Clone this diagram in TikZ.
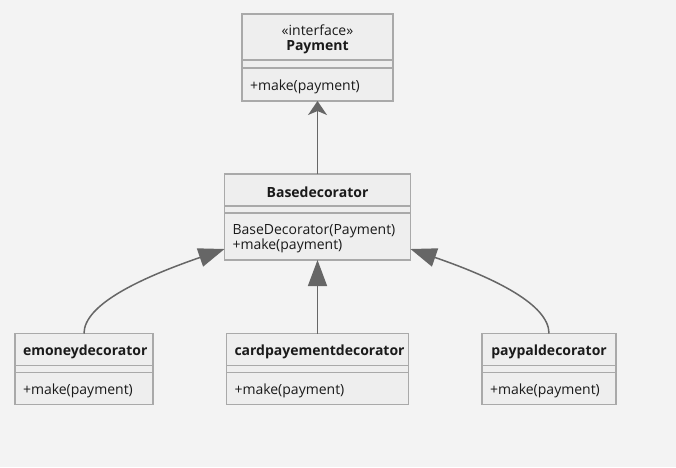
\documentclass[tikz,border=0pt]{standalone}
\usepackage{fontspec}
\setmainfont{Open Sans}
\usetikzlibrary{positioning,arrows.meta}
\definecolor{fond}{HTML}{F3F3F3}
\definecolor{boite}{HTML}{EEEEEE}
\definecolor{bord}{HTML}{A9A9A9}
\definecolor{lien}{HTML}{666666}
\definecolor{texte}{HTML}{1A1A1A}
\begin{document}
\begin{tikzpicture}[
    x=1pt, y=-1pt,
    node distance=73.5pt,
    % Réglages communs des boîtes
    every node/.style={draw=bord, line width=1.5pt, fill=boite, text=texte,
        inner xsep=8pt, inner ysep=0pt, outer sep=0pt,
        font=\fontsize{14pt}{15pt}\selectfont},
    titre/.style={minimum height=32pt, align=center,
        font=\fontsize{14pt}{15pt}\selectfont\bfseries,
        execute at begin node=\rule{0pt}{15pt}},
    attr/.style={minimum height=7pt, below=0pt of #1},
    meth/.style={minimum height=32pt, align=left, below=0pt of #1,
        execute at begin node=\rule{0pt}{15pt}},
    herit/.style={draw=lien, line width=1.5pt, -{Triangle[length=26pt, width=19pt]}},
    impl/.style={draw=lien, line width=1.5pt, -{Stealth[length=14pt, width=19pt, inset=4pt]}}
]
\fill[fond] (0,0) rectangle (676,467);
\useasboundingbox (0,0) rectangle (676,467);
% Interface
\node[titre, text width=135pt, minimum height=46pt, anchor=north] (pay) at (317.5,14)
    {{\mdseries «interface»}\\Payment};
\node[attr=pay, text width=135pt, minimum height=8pt] (pay-a) {};
\node[meth=pay-a, text width=135pt, minimum height=33pt] (pay-m) {+make(payment)};
% Décorateur de base
\node[titre, text width=170pt, below=73pt of pay-m] (base) {Basedecorator};
\node[attr=base, text width=170pt] (base-a) {};
\node[meth=base-a, text width=170pt, minimum height=47pt] (base-m)
    {BaseDecorator(Payment)\\+make(payment)};
% Décorateurs concrets
\node[titre, text width=166pt, below=of base-m] (card) {cardpayementdecorator};
\node[attr=card, text width=166pt] (card-a) {};
\node[meth=card-a, text width=166pt] (card-m) {+make(payment)};
\node[titre, text width=122pt, left=of card] (emoney) {emoneydecorator};
\node[attr=emoney, text width=122pt] (emoney-a) {};
\node[meth=emoney-a, text width=122pt] (emoney-m) {+make(payment)};
\node[titre, text width=118pt, right=of card] (paypal) {paypaldecorator};
\node[attr=paypal, text width=118pt] (paypal-a) {};
\node[meth=paypal-a, text width=118pt] (paypal-m) {+make(payment)};
% Liens
\draw[impl] (base.north) -- (pay-m.south);
\draw[herit] (emoney.north) .. controls +(0,-29) and +(-84,29) .. ([yshift=11pt]base-m.south west);
\draw[herit] (card.north) -- (base-m.south);
\draw[herit] (paypal.north) .. controls +(0,-29) and +(84,29) .. ([yshift=11pt]base-m.south east);
\end{tikzpicture}
\end{document}
